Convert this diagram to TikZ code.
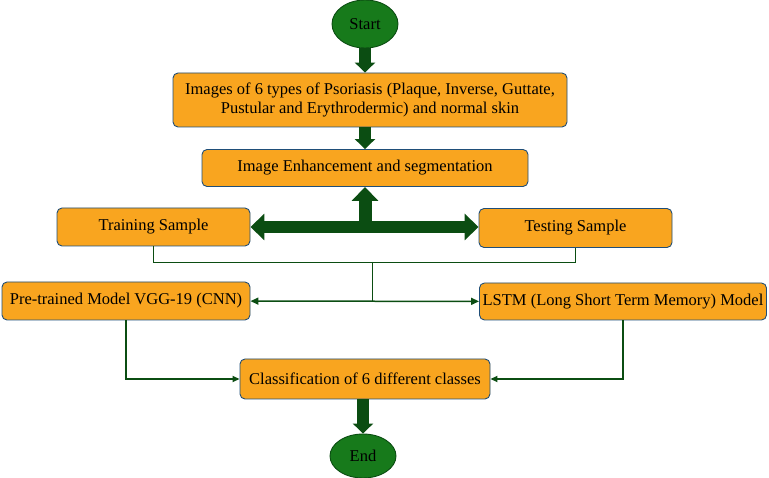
\documentclass[tikz,border=0pt]{standalone}
\usepackage{fontspec}
\setmainfont{Liberation Serif}
\usetikzlibrary{arrows.meta,shapes.geometric}
\definecolor{boxfill}{HTML}{F9A51F}
\definecolor{boxline}{HTML}{1F4E79}
\definecolor{dgreen}{HTML}{0B4D12}
\definecolor{termfill}{HTML}{177A1B}
\tikzset{
  proc/.style={draw=boxline,fill=boxfill,rounded corners=5pt,line width=0.9pt,
    align=center,inner sep=2pt,font=\fontsize{16.5}{19}\selectfont},
  term/.style={ellipse,draw=dgreen,fill=termfill,line width=0.9pt,
    minimum width=66pt,minimum height=48pt,inner sep=1pt,font=\fontsize{16.5}{19}\selectfont},
  flow/.style={dgreen,line width=12pt,-{Triangle[length=10pt,width=20pt]}},
  bigflow/.style={dgreen,line width=12pt,{Triangle[length=14pt,width=26pt]}-{Triangle[length=14pt,width=26pt]}},
  wire/.style={dgreen,line width=1pt},
  link/.style={dgreen,line width=2pt,-{Triangle[length=7pt,width=6pt]}}
}
\begin{document}
\begin{tikzpicture}[x=1pt,y=-1pt]
    \useasboundingbox (0,0) rectangle (769,478);
    \node[term] (start) at (365,24) {Start};
    \node[proc,minimum width=394pt,minimum height=54pt] (images) at (370,100)
        {Images of 6 types of Psoriasis (Plaque, Inverse, Guttate,\\Pustular and Erythrodermic) and normal skin};
    \node[proc,minimum width=326pt,minimum height=37pt] (enhance) at (365,168) {Image Enhancement and segmentation};
    \node[proc,minimum width=193pt,minimum height=38pt] (train) at (153.5,227) {Training Sample};
    \node[proc,minimum width=193pt,minimum height=39pt] (test) at (575.5,228) {Testing Sample};
    \node[proc,minimum width=248pt,minimum height=38pt] (vgg) at (126,301) {Pre-trained Model VGG-19 (CNN)};
    \node[proc,minimum width=287pt,minimum height=37pt] (lstm) at (623,301.5) {LSTM (Long Short Term Memory) Model};
    \node[proc,minimum width=250pt,minimum height=40pt] (classify) at (365,379) {Classification of 6 different classes};
    \node[term,minimum height=44pt] (finish) at (363,456) {End};
    % main flow
    \draw[flow] (start) -- (start |- images.north);
    \draw[flow] (enhance |- images.south) -- (enhance);
    \draw[bigflow] (train.east) -- (train.east -| test.west);
    \draw[dgreen,line width=13pt,-{Triangle[length=14pt,width=26pt]}] (enhance |- train.east) -- (enhance.south);
    % split into the two models
    \draw[wire] (train.south) -- ++(0,16) -| (test.south);
    \coordinate (fork) at (372,262);
    \draw[wire] (fork) -- (fork |- vgg.east);
    \draw[dgreen,line width=1.5pt,{Triangle[length=8pt,width=7pt]}-{Triangle[length=8pt,width=7pt]}] (vgg) -- (lstm);
    \draw[link] (vgg.south) |- (classify.west);
    \draw[link] (lstm.south) |- (classify.east);
    \draw[flow] (finish |- classify.south) -- (finish);
\end{tikzpicture}
\end{document}
